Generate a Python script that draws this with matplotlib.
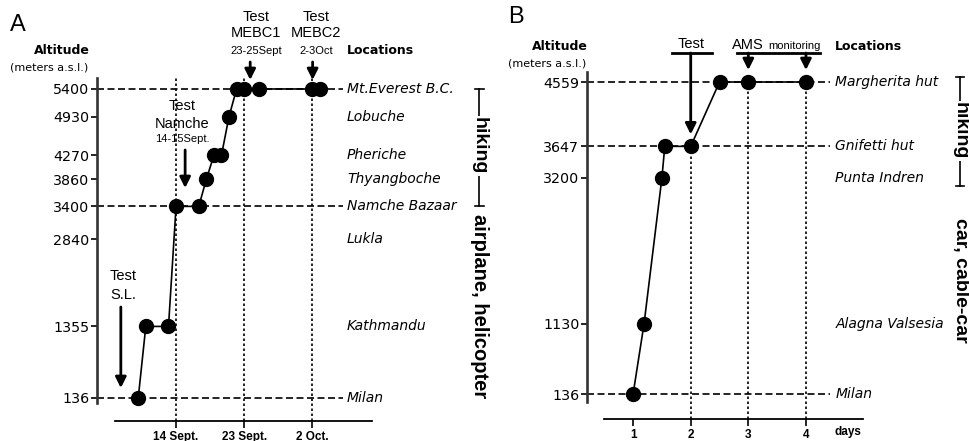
import matplotlib
matplotlib.use("Agg")
import matplotlib.pyplot as plt

W, H = 969, 441

# Panel A: Everest expedition (day of September, 32 = 2 Oct)
days_a = [9, 10, 13, 14, 17, 18, 19, 20, 21, 22, 23, 25, 32, 33]
alt_a = [136, 1355, 1355, 3400, 3400, 3860, 4270, 4270, 4930, 5400, 5400, 5400, 5400, 5400]
yticks_a = [136, 1355, 2840, 3400, 3860, 4270, 4930, 5400]
locs_a = ["Milan", "Kathmandu", "Lukla", "Namche Bazaar", "Thyangboche", "Pheriche", "Lobuche", "Mt.Everest B.C."]
xticks_a = [14, 23, 32]
xlabels_a = ["14 Sept.", "23 Sept.", "2 Oct."]
dashed_a = [136, 3400, 5400]

# Panel B: Monte Rosa
days_b = [1.0, 1.19, 1.5, 1.55, 2.0, 2.5, 3.0, 4.0]
alt_b = [136, 1130, 3200, 3647, 3647, 4559, 4559, 4559]
yticks_b = [136, 1130, 3200, 3647, 4559]
locs_b = ["Milan", "Alagna Valsesia", "Punta Indren", "Gnifetti hut", "Margherita hut"]
xticks_b = [1, 2, 3, 4]
dashed_b = [136, 3647, 4559]
vlines_b = [(2, 3647), (3, 4559), (4, 4559)]

TAHOMA = "DejaVu Sans"
ARIAL = "Liberation Sans"
DASH = (0, (4.2, 2.1))
DOT = (0, (1.5, 1.5))


def px(x, y):
    return x / W, 1 - y / H


def setup(ax, xlim, ylim, ybounds, xbounds, yticks, xticks, xlabels):
    ax.set_xlim(*xlim)
    ax.set_ylim(*ylim)
    for s in ["top", "right"]:
        ax.spines[s].set_visible(False)
    ax.spines["left"].set_bounds(*ybounds)
    ax.spines["left"].set_linewidth(1.9)
    ax.spines["left"].set_color("#333333")
    ax.spines["bottom"].set_bounds(*xbounds)
    ax.spines["bottom"].set_linewidth(1.3)
    ax.set_yticks(yticks)
    ax.set_yticklabels([str(v) for v in yticks], fontsize=10.3, family=TAHOMA)
    ax.set_xticks(xticks)
    ax.set_xticklabels(xlabels, fontsize=8.5, family=ARIAL, fontweight="bold")
    ax.tick_params(axis="y", length=4, width=1.2, pad=1.5)
    ax.tick_params(axis="x", length=5, width=1.2, pad=2)


def arrow(ax, x, y0, y1):
    ax.annotate("", xy=(x, y1), xytext=(x, y0), annotation_clip=False,
                arrowprops=dict(arrowstyle="-|>", lw=2, color="k",
                                mutation_scale=16, shrinkA=0, shrinkB=0))


fig = plt.figure(figsize=(W / 100, H / 100), dpi=100)

# ---------------- Panel A ----------------
axa = fig.add_axes([97 / W, 1 - 421 / H, (372 - 97) / W, (421 - 78) / H])
setup(axa, (3.55, 39.9), (-256, 5587), (51, 5587), (5.93, 39.9),
      yticks_a, xticks_a, xlabels_a)
for x in xticks_a:
    axa.axvline(x, color="k", lw=1.2, ls=DOT, zorder=1)
axa.hlines(dashed_a, 3.55, 36.1, color="k", lw=1.2, ls=DASH, zorder=1)
axa.plot(days_a, alt_a, "k-", lw=1.2, marker="o", ms=10, zorder=3)
for y, name in zip(yticks_a, locs_a):
    axa.text(36.6, y, name, fontsize=10, family=TAHOMA, style="italic",
             va="center", ha="left", clip_on=False)

arrow(axa, 23.8, 5860, 5553)
arrow(axa, 32.05, 5860, 5553)
arrow(axa, 15.2, 4361, 3713)
arrow(axa, 6.7, 1686, 306)

fig.text(*px(256, 17), "Test", fontsize=10.5, family=ARIAL, ha="center", va="center")
fig.text(*px(256, 33), "MEBC1", fontsize=10.5, family=ARIAL, ha="center", va="center")
fig.text(*px(256, 51), "23-25Sept", fontsize=8, family=ARIAL, ha="center", va="center")
fig.text(*px(316, 17), "Test", fontsize=10.5, family=ARIAL, ha="center", va="center")
fig.text(*px(316, 33), "MEBC2", fontsize=10.5, family=ARIAL, ha="center", va="center")
fig.text(*px(316, 51), "2-3Oct", fontsize=8, family=ARIAL, ha="center", va="center")
fig.text(*px(182, 106), "Test", fontsize=10.5, family=ARIAL, ha="center", va="center")
fig.text(*px(182, 124), "Namche", fontsize=10.5, family=ARIAL, ha="center", va="center")
fig.text(*px(182, 139), "14-15Sept.", fontsize=8, family=ARIAL, ha="center", va="center")
fig.text(*px(110, 276), "Test", fontsize=10.5, family=ARIAL, ha="left", va="center")
fig.text(*px(110, 295), "S.L.", fontsize=10.5, family=ARIAL, ha="left", va="center")

fig.text(*px(18, 25), "A", fontsize=17, family=ARIAL, ha="center", va="center")
fig.text(*px(90, 51), "Altitude", fontsize=9, family=TAHOMA, fontweight="bold", ha="right", va="center")
fig.text(*px(88, 68), "(meters a.s.l.)", fontsize=8, family=TAHOMA, ha="right", va="center")
fig.text(*px(347, 51), "Locations", fontsize=9, family=TAHOMA, fontweight="bold", ha="left", va="center")

# transport bracket A
bx = 54.1
axa.plot([bx, bx], [5400, 3400], color="k", lw=1.2, clip_on=False)
axa.plot([bx - 0.6, bx + 0.6], [5400, 5400], color="k", lw=1.2, clip_on=False)
axa.plot([bx - 0.6, bx + 0.6], [3400, 3400], color="k", lw=1.2, clip_on=False)
axa.text(bx, 4429, "hiking", rotation=270, fontsize=14, family=ARIAL, fontweight="bold",
         ha="center", va="center", clip_on=False,
         bbox=dict(fc="white", ec="none", pad=1.0))
axa.text(bx, 1703, "airplane, helicopter", rotation=270, fontsize=14.5, family=ARIAL,
         fontweight="bold", ha="center", va="center", clip_on=False,
         bbox=dict(fc="white", ec="none", pad=1.0))

# ---------------- Panel B ----------------
axb = fig.add_axes([587 / W, 1 - 419 / H, (863 - 587) / W, (419 - 72) / H])
setup(axb, (0.2, 4.99), (-218, 4701), (23, 4701), (0.5, 4.99),
      yticks_b, xticks_b, [str(v) for v in xticks_b])
for x, top in vlines_b:
    axb.vlines(x, -218, top, color="k", lw=1.2, ls=DOT, zorder=1)
axb.hlines(dashed_b, 0.2, 4.42, color="k", lw=1.2, ls=DASH, zorder=1)
axb.plot(days_b, alt_b, "k-", lw=1.2, marker="o", ms=10, zorder=3)
for y, name in zip(yticks_b, locs_b):
    axb.text(4.51, y, name, fontsize=10, family=TAHOMA, style="italic",
             va="center", ha="left", clip_on=False)
axb.text(4.72, -405, "days", fontsize=8.5, family=ARIAL, fontweight="bold",
         ha="center", va="center", clip_on=False)

axb.plot([1.68, 2.37], [4970, 4970], color="k", lw=2, clip_on=False)
arrow(axb, 2, 4970, 3817)
axb.plot([2.8, 4.25], [4970, 4970], color="k", lw=2, clip_on=False)
arrow(axb, 3, 4970, 4729)
arrow(axb, 4, 4970, 4729)

fig.text(*px(691, 44), "Test", fontsize=10.5, family=ARIAL, ha="center", va="center")
fig.text(*px(732, 45), "AMS", fontsize=10.5, family=ARIAL, ha="left", va="center")
fig.text(*px(768, 46), "monitoring", fontsize=8, family=ARIAL, ha="left", va="center")

fig.text(*px(516, 17), "B", fontsize=17, family=ARIAL, ha="center", va="center")
fig.text(*px(588, 47), "Altitude", fontsize=9, family=TAHOMA, fontweight="bold", ha="right", va="center")
fig.text(*px(586, 63), "(meters a.s.l.)", fontsize=8, family=TAHOMA, ha="right", va="center")
fig.text(*px(835, 46), "Locations", fontsize=9, family=TAHOMA, fontweight="bold", ha="left", va="center")

# transport bracket B
bx = 6.68
axb.plot([bx, bx], [4630, 3086], color="k", lw=1.2, clip_on=False)
axb.plot([bx - 0.07, bx + 0.07], [4630, 4630], color="k", lw=1.2, clip_on=False)
axb.plot([bx - 0.07, bx + 0.07], [3086, 3086], color="k", lw=1.2, clip_on=False)
axb.text(bx, 3864, "hiking", rotation=270, fontsize=14, family=ARIAL, fontweight="bold",
         ha="center", va="center", clip_on=False,
         bbox=dict(fc="white", ec="none", pad=1.0))
axb.text(bx, 1753, "car, cable-car", rotation=270, fontsize=14, family=ARIAL,
         fontweight="bold", ha="center", va="center", clip_on=False)

fig.savefig("out.png", dpi=100)
